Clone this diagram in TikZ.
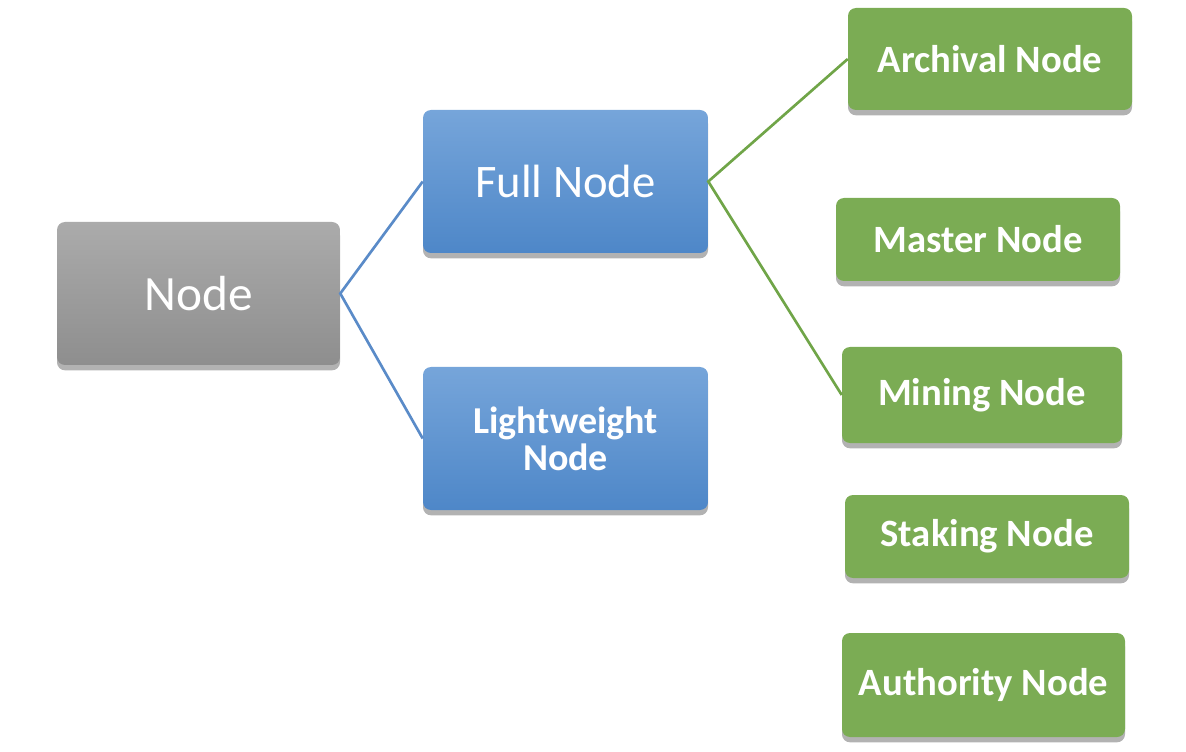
\documentclass[tikz,border=0pt]{standalone}
\usepackage{fontspec}
\setmainfont{Carlito}
\usetikzlibrary{shadows}
\definecolor{grayTop}{HTML}{ABABAB}
\definecolor{grayBot}{HTML}{8E8E8E}
\definecolor{blueTop}{HTML}{76A5DA}
\definecolor{blueBot}{HTML}{4E87C8}
\definecolor{greenFill}{HTML}{7BAC54}
\definecolor{blueLine}{HTML}{5A8BC8}
\definecolor{greenLine}{HTML}{70A548}
\tikzset{
  box/.style={rounded corners=6pt, inner sep=2pt, align=center, text=white,
    drop shadow={shadow xshift=0pt, shadow yshift=-4pt, opacity=0.3, fill=black}},
  graybox/.style={box, top color=grayTop, bottom color=grayBot, font=\fontsize{37}{42}\selectfont},
  bluebox/.style={box, top color=blueTop, bottom color=blueBot, minimum width=213.75pt, minimum height=107.25pt},
  greenbox/.style={box, fill=greenFill, font=\bfseries\fontsize{29}{34}\selectfont},
  blueconn/.style={draw=blueLine, line width=2pt},
  greenconn/.style={draw=greenLine, line width=2pt}
}
\begin{document}
\begin{tikzpicture}[x=0.75pt, y=-0.75pt]
\useasboundingbox (0,0) rectangle (1186,752);
\node[graybox, minimum width=212.25pt, minimum height=107.25pt] (node) at (198.5,293.5) {Node};
\node[bluebox, font=\fontsize{35}{40}\selectfont] (full) at (565.5,181.5) {Full Node};
\node[bluebox, font=\bfseries\fontsize{28.5}{28}\selectfont] (light) at (565.5,438.5) {Lightweight\\Node};
\node[greenbox, minimum width=213pt, minimum height=76.5pt] (arch) at (990,59) {Archival Node};
\node[greenbox, minimum width=213pt, minimum height=62.25pt] (master) at (978,239.5) {Master Node};
\node[greenbox, minimum width=210pt, minimum height=72pt] (mining) at (982,395) {Mining Node};
\node[greenbox, minimum width=213pt, minimum height=62.25pt] (staking) at (987,536.5) {Staking Node};
\node[greenbox, minimum width=212.25pt, minimum height=78pt] (auth) at (983.5,685) {Authority Node};
\draw[blueconn] (full.west) -- (node.east) -- (light.west);
\draw[greenconn] (arch.west) -- (full.east) -- (mining.west);
\end{tikzpicture}
\end{document}
